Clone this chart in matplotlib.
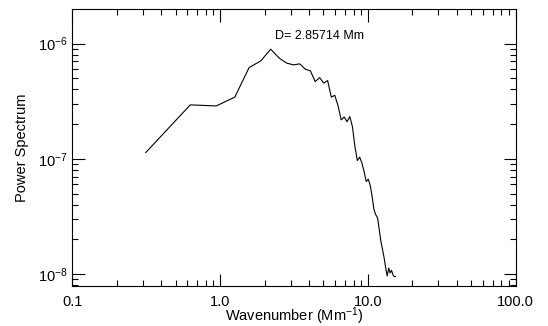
import numpy as np
import matplotlib
matplotlib.use('Agg')
import matplotlib.pyplot as plt
from matplotlib.ticker import LogLocator, FixedLocator, FixedFormatter, NullFormatter

plt.rcParams['font.family'] = ['Liberation Sans', 'DejaVu Sans']
plt.rcParams['mathtext.fontset'] = 'custom'
plt.rcParams['mathtext.rm'] = 'Liberation Sans'
plt.rcParams['mathtext.it'] = 'Liberation Sans:italic'
plt.rcParams['mathtext.bf'] = 'Liberation Sans:bold'

# box size 20 Mm -> wavenumber step pi/10 per mode
L = 20.0
modes = np.arange(1, 50)
power = [1.135e-7, 2.94e-7, 2.88e-7, 3.43e-7, 6.19e-7, 7.08e-7, 8.94e-7, 7.47e-7,
         6.76e-7, 6.54e-7, 6.67e-7, 6.00e-7, 5.80e-7, 4.68e-7, 5.07e-7, 4.54e-7,
         4.78e-7, 3.43e-7, 3.56e-7, 2.88e-7, 2.18e-7, 2.31e-7, 2.10e-7, 2.33e-7,
         1.91e-7, 1.28e-7, 9.66e-8, 1.035e-7, 9.18e-8, 7.76e-8, 6.36e-8, 6.67e-8,
         5.89e-8, 4.71e-8, 3.61e-8, 3.27e-8, 3.08e-8, 2.42e-8, 1.91e-8, 1.63e-8,
         1.38e-8, 1.13e-8, 9.66e-9, 1.13e-8, 1.025e-8, 1.08e-8, 9.87e-9, 9.53e-9,
         9.53e-9]

xticks = [0.1, 1.0, 10.0, 100.0]
xticklabels = ['0.1', '1.0', '10.0', '100.0']
yticks = [1e-8, 1e-7, 1e-6]
yticklabels = ['$10^{-8}$', '$10^{-7}$', '$10^{-6}$']

k = modes * 2 * np.pi / L
power = np.array(power)
D = 2 * np.pi / k[np.argmax(power)]

fs = 10.5

fig = plt.figure(figsize=(5.48, 3.26), dpi=100)
ax = fig.add_axes([0.1319, 0.1236, 0.8092, 0.8488])
ax.plot(k, power, color='black', lw=0.8)
ax.set_xscale('log')
ax.set_yscale('log')
ax.set_xlim(0.1, 100.0)
ax.set_ylim(10**-8.10, 10**-5.70)

ax.xaxis.set_major_locator(FixedLocator(xticks))
ax.xaxis.set_major_formatter(FixedFormatter(xticklabels))
ax.yaxis.set_major_locator(FixedLocator(yticks))
ax.yaxis.set_major_formatter(FixedFormatter(yticklabels))
ax.xaxis.set_minor_locator(LogLocator(base=10, subs=np.arange(2, 10), numticks=20))
ax.yaxis.set_minor_locator(LogLocator(base=10, subs=np.arange(2, 10), numticks=20))
ax.xaxis.set_minor_formatter(NullFormatter())
ax.yaxis.set_minor_formatter(NullFormatter())

ax.tick_params(which='both', direction='in', top=True, right=True, width=0.8,
               labelsize=fs, colors='black')
ax.tick_params(which='major', length=9)
ax.tick_params(which='minor', length=4.5)
ax.tick_params(axis='x', pad=7)
ax.tick_params(axis='y', pad=3.5)
for s in ax.spines.values():
    s.set_linewidth(0.8)

ax.set_xlabel('Wavenumber (Mm$^{-1}$)', fontsize=fs, labelpad=-3)
ax.set_ylabel('Power Spectrum', fontsize=fs, labelpad=6)
ax.text(0.457, 0.903, 'D= %g Mm' % D, transform=ax.transAxes, fontsize=9,
        ha='left', va='center')

fig.savefig('out.png', dpi=100)
